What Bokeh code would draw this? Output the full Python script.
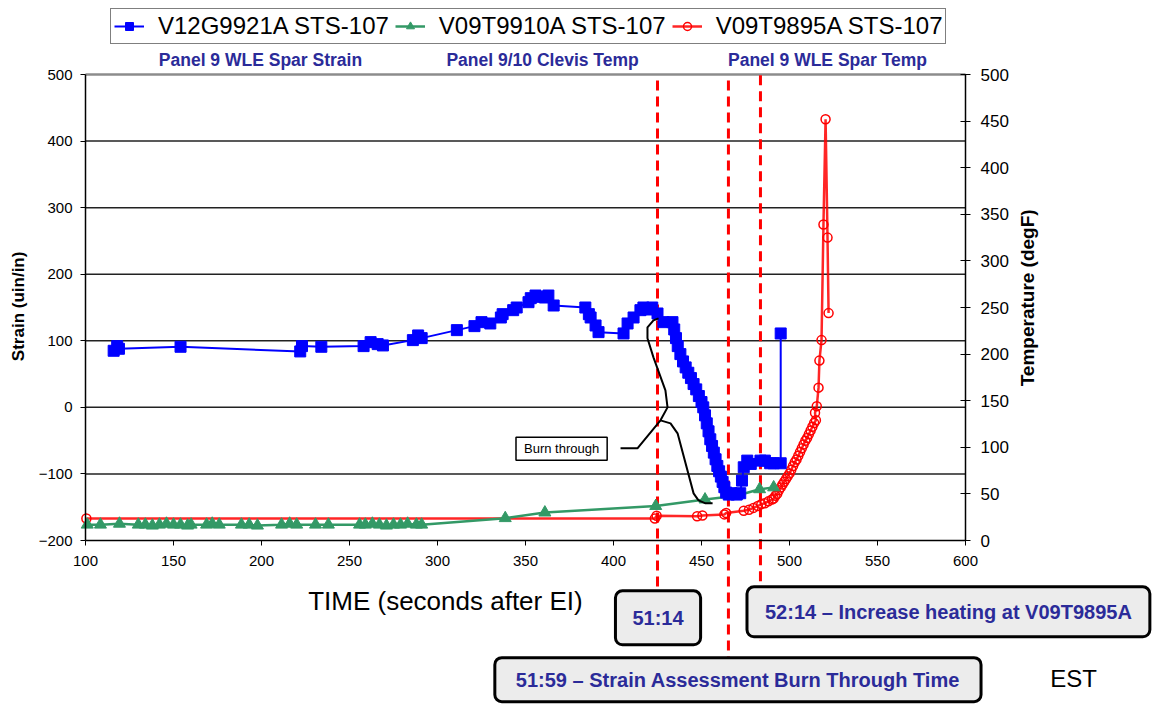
from math import pi
from bokeh.plotting import figure
from bokeh.models import (Range1d, LinearAxis, FixedTicker, Label, Legend, LegendItem)
from bokeh.embed import file_html
from bokeh.resources import INLINE

# ---------------- data ----------------
strain_t = [116, 118, 119, 154, 222, 223, 234, 258, 262, 266, 269, 286, 289, 291,
            311, 321, 325, 330, 336, 337, 343, 345, 351.7, 353, 355.7, 358, 361, 363,
            366, 384, 386, 387, 389.8, 391.5, 405.7, 408, 411.4, 415.3, 417, 420, 422,
            425, 428.4, 433.5, 434.5, 435.5, 436.5, 438, 439.5, 441, 442.5, 444, 445.5,
            447, 448.5, 450, 451, 452, 453, 454, 455, 456, 457, 458, 459, 460, 461,
            462, 463, 464, 465.5, 467, 470, 472, 473, 474, 476, 478, 483.5, 486, 489,
            491, 495, 495]
strain_v = [85, 92, 88, 91, 84, 92, 91, 92, 98, 95, 93, 101, 108, 104,
            116, 122, 128, 126, 135, 140, 146, 150, 158, 164, 168, 166, 165, 168,
            153, 150, 140, 135, 123, 113, 111, 126, 135, 146, 150, 147, 150,
            141, 128, 128, 117, 104, 92, 80, 69, 60, 52, 44, 35,
            27, 17, 8, 0, -12, -24, -36, -48, -58, -68, -78, -88, -96, -104,
            -112, -120, -128, -131, -129, -131, -129, -110, -90, -80, -85, -80, -80, -84,
            -84, -84, 111]

clevis_t = [101, 108.5, 119.3, 130, 134, 138, 142, 146, 150, 154, 158, 160,
            168.8, 172, 176, 188.6, 193, 197.7, 211.4, 216, 220, 230.7, 238,
            255.7, 259, 263, 267, 271, 275, 279, 283, 288, 291,
            338.5, 361, 424, 452, 470, 483, 491]
clevis_v = [17, 17, 18, 17, 17, 16, 17, 18, 17, 17, 16, 17,
            17, 18, 17, 17, 17, 16, 17, 18, 17, 17, 17,
            17, 17, 18, 17, 16, 17, 17, 18, 17, 17,
            24, 30, 37, 44, 48, 55, 57]

spar_t = [100.5, 423.5, 424.5, 447.5, 450.5, 463, 464, 474, 477, 479.5, 482, 484,
          486, 488, 490, 491, 492, 493, 494, 495, 496, 497, 498, 499, 500, 501, 502,
          503, 504, 505, 506, 507, 508, 509, 510, 511, 512, 513, 514, 515, 514.5,
          515.5, 516.5, 517, 518.2, 519.3, 520.5, 521.6, 522.2]
spar_v = [23.6, 23.6, 26.5, 26, 26.8, 28, 29.5, 32, 33, 35, 37, 39,
          40, 42, 44, 45, 48, 50, 54, 57, 60, 63, 66, 69, 72, 76, 80,
          84, 87, 91, 95, 99, 103, 107, 110, 114, 118, 122, 126, 129, 137,
          144, 164, 193, 215, 339, 452, 325, 244]

series_names = ["V12G9921A STS-107", "V09T9910A STS-107", "V09T9895A STS-107"]
panel_titles = ["Panel 9 WLE Spar Strain", "Panel 9/10 Clevis Temp", "Panel 9 WLE Spar Temp"]

x_ticks = list(range(100, 601, 50))
strain_ticks = list(range(-200, 501, 100))
temp_ticks = list(range(0, 501, 50))

event_t = [425.0, 465.3, 483.5]
event_labels = ["51:14", "51:59 \u2013 Strain Assessment Burn Through Time",
                "52:14 \u2013 Increase heating at V09T9895A"]

# ---------------- layout geometry (pixels of the 1153x706 canvas) ----------------
W, H = 1153, 706
PX_L, PX_R, PX_T, PX_B = 85, 965, 74, 540          # where the axes box sits
X_MIN, X_MAX = 100, 600
S_MIN, S_MAX = -200, 500
T_MIN, T_MAX = 0, 500
kx = (PX_R - PX_L) / (X_MAX - X_MIN)
ky = (PX_B - PX_T) / (S_MAX - S_MIN)
x_lo = X_MIN - PX_L / kx
x_hi = X_MAX + (W - PX_R) / kx
s_hi = S_MAX + PX_T / ky
s_lo = S_MIN - (H - PX_B) / ky
t_per_s = (T_MAX - T_MIN) / (S_MAX - S_MIN)
t_lo = T_MIN + (s_lo - S_MIN) * t_per_s
t_hi = T_MIN + (s_hi - S_MIN) * t_per_s

# annotation geometry (brace of the "Burn through" callout), data units
brace_up_t = [404.0, 413.6, 426.7, 430.7, 429.5, 422.7, 419.3, 419.3, 422.7, 425.6]
brace_up_s = [-61.6, -61.6, -19.5, 0, 25.5, 75.1, 103.7, 120.2, 130.7, 133.7]
brace_lo_t = [426.7, 432.4, 436.4, 445.5, 448.3, 452.3, 456.3]
brace_lo_s = [-19.5, -24, -39, -129.2, -139.7, -144.2, -144.2]

BLUE = "#0000ff"
GREEN = "#339966"
RED = "#ff0000"
NAVY = "#2b2b99"
FONT = "Liberation Sans"

p = figure(width=W, height=H, x_range=Range1d(x_lo, x_hi), y_range=Range1d(s_lo, s_hi),
           output_backend="svg", toolbar_location=None,
           min_border_left=0, min_border_right=0, min_border_top=0, min_border_bottom=0)
p.extra_y_ranges = {"temp": Range1d(t_lo, t_hi)}
p.background_fill_color = "white"
p.border_fill_color = "white"
p.outline_line_color = None
p.xgrid.visible = False
p.ygrid.visible = False


def style_axis(ax, size):
    ax.minor_tick_out = 0
    ax.minor_tick_in = 0
    ax.axis_line_color = "black"
    ax.axis_line_width = 1.5
    ax.major_tick_line_color = "black"
    ax.major_tick_line_width = 1
    ax.major_label_text_font = FONT
    ax.major_label_text_font_size = size
    ax.major_label_text_color = "black"


xa = p.xaxis[0]
style_axis(xa, "15px")
xa.ticker = FixedTicker(ticks=x_ticks)
xa.fixed_location = S_MIN
xa.bounds = (X_MIN, X_MAX)
xa.major_tick_out = 5
xa.major_tick_in = 0
xa.major_label_standoff = 10

ya = p.yaxis[0]
style_axis(ya, "15px")
ya.ticker = FixedTicker(ticks=strain_ticks)
ya.fixed_location = X_MIN
ya.bounds = (S_MIN, S_MAX)
ya.major_tick_out = 5
ya.major_tick_in = 0
ya.major_label_standoff = 8

rax = LinearAxis(y_range_name="temp", ticker=FixedTicker(ticks=temp_ticks),
                 fixed_location=X_MAX, bounds=(T_MIN, T_MAX),
                 major_tick_in=5, major_tick_out=5, major_label_standoff=10)
style_axis(rax, "17px")
p.add_layout(rax, "right")

# horizontal gridlines at the strain ticks, and the grey top edge
inner = strain_ticks[1:-1]
p.segment(x0=[X_MIN] * len(inner), y0=inner, x1=[X_MAX] * len(inner), y1=inner,
          line_color="#222222", line_width=1.5)
p.segment(x0=[X_MIN], y0=[S_MAX], x1=[X_MAX], y1=[S_MAX], line_color="#8c8c8c", line_width=2.5)

# event dashed lines (run down to their boxes)
p.segment(x0=event_t, y0=[491, 491, 499], x1=event_t, y1=[-278, -375.8, -269],
          line_color=RED, line_width=3, line_dash="10 6")

# series (temperature series under the strain series, as in the reference)
r_line = p.line(spar_t, spar_v, y_range_name="temp", line_color=RED, line_width=2.5, line_alpha=0.85)
r_pts = p.scatter(spar_t, spar_v, y_range_name="temp", marker="circle", size=9,
                  fill_color=None, line_color=RED, line_width=1.5)
g_line = p.line(clevis_t, clevis_v, y_range_name="temp", line_color=GREEN, line_width=2.5)
g_pts = p.scatter(clevis_t, clevis_v, y_range_name="temp", marker="triangle", size=12,
                  fill_color=GREEN, line_color=GREEN)
b_line = p.line(strain_t, strain_v, line_color=BLUE, line_width=2)
b_pts = p.scatter(strain_t, strain_v, marker="square", size=11, fill_color=BLUE, line_color=BLUE)

# brace callout
p.line(brace_up_t, brace_up_s, line_color="black", line_width=2)
p.line(brace_lo_t, brace_lo_s, line_color="black", line_width=2)
p.add_layout(Label(x=370.5, y=-62.3, text="Burn through", text_align="center",
                   text_baseline="middle", text_font=FONT, text_font_size="13px",
                   text_color="black", background_fill_color="white",
                   border_line_color="black", border_line_width=1.5,
                   padding=dict(left=8, right=8, top=4, bottom=4)))

# event boxes
box_specs = [(425.3, -316.2, dict(left=17, right=17, top=16, bottom=16)),
             (470.7, -409.0, dict(left=21, right=21, top=11, bottom=11)),
             (590.3, -307.2, dict(left=18, right=18, top=14, bottom=14))]
for text, (bx, by, pad) in zip(event_labels, box_specs):
    p.add_layout(Label(x=bx, y=by, text=text, text_align="center", text_baseline="middle",
                       text_font=FONT, text_font_style="bold", text_font_size="20px",
                       text_color=NAVY, background_fill_color="#ececec",
                       border_line_color="black", border_line_width=3, border_radius=7,
                       padding=pad))

# panel titles
for text, tx in zip(panel_titles, [199.4, 359.7, 521.6]):
    p.add_layout(Label(x=tx, y=521.3, text=text, text_align="center", text_baseline="middle",
                       text_font=FONT, text_font_style="bold", text_font_size="17.5px",
                       text_color=NAVY))

# axis titles
p.add_layout(Label(x=61.9, y=151.7, text="Strain (uin/in)", angle=pi / 2, text_align="center",
                   text_baseline="middle", text_font=FONT, text_font_style="bold",
                   text_font_size="17px", text_color="black"))
p.add_layout(Label(x=635.2, y=164.5, text="Temperature (degF)", angle=pi / 2, text_align="center",
                   text_baseline="middle", text_font=FONT, text_font_style="bold",
                   text_font_size="19px", text_color="black"))
p.add_layout(Label(x=304.5, y=-291.4, text="TIME (seconds after EI)", text_align="center",
                   text_baseline="middle", text_font=FONT, text_font_size="26px",
                   text_color="black"))
p.add_layout(Label(x=661.4, y=-407, text="EST", text_align="center", text_baseline="middle",
                   text_font=FONT, text_font_size="24px", text_color="black"))

# legend (bottom-left corner given in pixels from the frame's bottom-left)
legend = Legend(items=[LegendItem(label=series_names[0], renderers=[b_line, b_pts]),
                       LegendItem(label=series_names[1], renderers=[g_line, g_pts]),
                       LegendItem(label=series_names[2], renderers=[r_line, r_pts])],
                orientation="horizontal", location=(110, H - 44),
                label_text_font=FONT, label_text_font_size="24px", label_text_color="black",
                glyph_width=30, glyph_height=20, label_standoff=14, spacing=6,
                padding=3, margin=0, border_line_color="black", border_line_width=1,
                background_fill_color="white", background_fill_alpha=1)
p.add_layout(legend, "center")

open("out.html", "w").write(file_html(p, INLINE))
